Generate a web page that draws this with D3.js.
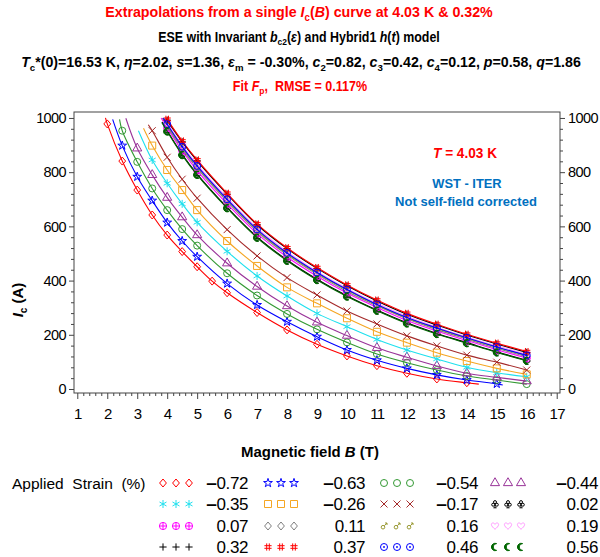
<!DOCTYPE html>
<html>
<head>
<meta charset="utf-8">
<script src="https://cdn.jsdelivr.net/npm/d3@7"></script>
<style>
  body { margin: 0; background: #fff; }
  text { font-family: "Liberation Sans", Arial, sans-serif; }
</style>
</head>
<body>
<div id="chart"></div>
<script>
// Canvas size
var w = 600;
var h = 557;

// Applied strain (%) of every curve, legend order
var strains = [-0.72, -0.63, -0.54, -0.44, -0.35, -0.26, -0.17, 0.02,
               0.07, 0.11, 0.16, 0.19, 0.32, 0.37, 0.46, 0.56];

// Field values (T) of the measured points
var clusterB = [4, 4.5, 5, 6, 7, 8, 9, 10, 11, 12, 13, 14, 15, 16];
var fieldB = [
  [2, 2.5, 3, 3.5, 4, 4.5, 5, 5.5, 6, 7, 8, 9, 10, 11, 12, 13, 14],
  [2.5, 3, 3.5, 4, 4.5, 5, 6, 7, 8, 9, 10, 11, 12, 13, 14, 15],
  [2.5, 3, 3.5, 4, 4.5, 5, 6, 7, 8, 9, 10, 11, 12, 13, 14, 15, 16],
  [3, 3.5, 4, 4.5, 5, 6, 7, 8, 9, 10, 11, 12, 13, 14, 15, 16],
  [3.5, 4, 4.5, 5, 6, 7, 8, 9, 10, 11, 12, 13, 14, 15, 16],
  [3.5, 4, 4.5, 5, 6, 7, 8, 9, 10, 11, 12, 13, 14, 15, 16],
  [3.5, 4, 4.5, 5, 6, 7, 8, 9, 10, 11, 12, 13, 14, 15, 16],
  clusterB, clusterB, clusterB, clusterB, clusterB, clusterB, clusterB, clusterB, clusterB
];

// Critical current Ic (A) at those fields
var currentIc = [
  [978, 841, 734, 642, 568, 507, 451, 398, 355, 282, 218, 165, 122, 86, 58, 37, 23],
  [898, 783, 695, 614, 546, 488, 389, 310, 248, 193, 144, 106, 76, 52, 33, 19],
  [953, 838, 740, 660, 590, 529, 427, 345, 277, 220, 172, 129, 97, 70, 48, 33, 18],
  [888, 790, 706, 634, 568, 464, 378, 306, 246, 197, 152, 117, 85, 58, 43, 29],
  [845, 759, 683, 615, 508, 417, 343, 279, 230, 183, 144, 111, 80, 60, 45],
  [898, 808, 734, 660, 546, 454, 375, 316, 261, 211, 171, 134, 103, 76, 54],
  [953, 855, 774, 704, 588, 491, 411, 347, 288, 240, 196, 159, 125, 99, 70],
  [953, 866, 793, 670, 561, 476, 405, 344, 291, 244, 205, 171, 137, 106],
  [963, 879, 806, 683, 573, 487, 416, 354, 301, 253, 214, 179, 145, 114],
  [970, 886, 815, 692, 581, 495, 423, 360, 307, 259, 219, 184, 150, 119],
  [975, 892, 820, 697, 586, 499, 427, 365, 310, 262, 223, 187, 154, 123],
  [982, 899, 829, 706, 594, 507, 434, 371, 316, 268, 228, 192, 159, 128],
  [992, 912, 842, 719, 606, 518, 445, 381, 325, 276, 236, 199, 166, 135],
  [995, 915, 845, 722, 609, 521, 448, 384, 328, 279, 239, 202, 169, 138],
  [977, 894, 823, 700, 589, 502, 430, 367, 312, 264, 225, 189, 155, 124],
  [950, 863, 790, 667, 558, 473, 402, 341, 289, 242, 203, 169, 135, 104]
];

// Where each fitted line begins and ends beyond the points [B, Ic]
var lineStart = [[1.94, 1000], [2.18, 995], [2.41, 995], [2.62, 999], [3.04, 953], [3.21, 962],
                 [3.37, 975], [3.83, 985], [3.8, 1000], [3.84, 1000], [3.86, 1000], [3.9, 1000],
                 [3.96, 1000], [3.97, 1000], [3.87, 1000], [3.82, 983]];
var lineEnd = [[14.4, 18], [15.2, 15], null, null, null, null, null, null,
               null, null, null, null, null, null, null, null];

// Axis ticks
var xTicks = d3.range(1, 18);
var yTicks = [0, 200, 400, 600, 800, 1000];

// Styles
var colors = ["#ff0000", "#0000ff", "#339933", "#993399", "#1ee0ee", "#f5a623", "#a52a2a", "#000000",
              "#ff00ff", "#808080", "#999933", "#ff99ff", "#000000", "#ff0000", "#0000ff", "#006600"];
var shapes = ["diamond", "star", "circle", "triangle", "asterisk", "square", "x", "club",
              "circlePlus", "diamond", "paw", "heart", "plus", "hash", "circleDot", "moon"];

var svg = d3.select("#chart")
  .append("svg")
  .attr("width", w)
  .attr("height", h);

var plotL = 74, plotR = 560, plotT = 112, plotB = 393;

var xScale = d3.scaleLinear().domain([0.89, 17.11]).range([plotL, plotR]);
var yScale = d3.scaleLinear().domain([-14.8, 1022]).range([plotB, plotT]);

// circle outline as path
function ring(cx, cy, r) {
  return "M" + (cx + r) + "," + cy + "A" + r + "," + r + " 0 1 1 " + (cx - r) + "," + cy +
         "A" + r + "," + r + " 0 1 1 " + (cx + r) + "," + cy;
}

var symbolPaths = {
  diamond: "M0,-4L3.4,0L0,4L-3.4,0Z",
  star: d3.symbol(d3.symbolStar, 24)(),
  circle: ring(0, 0, 3.5),
  triangle: d3.symbol(d3.symbolTriangle, 36)(),
  asterisk: "M0,-4V4M-3.5,-2L3.5,2M-3.5,2L3.5,-2",
  square: "M-3.5,-3.5H3.5V3.5H-3.5Z",
  x: "M-3.5,-3.5L3.5,3.5M-3.5,3.5L3.5,-3.5",
  club: ring(0, -1.9, 1.5) + ring(-1.8, 0.7, 1.5) + ring(1.8, 0.7, 1.5) + "M0,0.6V3.8M-1.6,3.8H1.6",
  circlePlus: ring(0, 0, 3.6) + "M-3.6,0H3.6M0,-3.6V3.6",
  paw: ring(-1, 1.2, 1.8) + "M0.3,-0.2L3,-3M1,-3H3V-1",
  heart: "M0,3.3C-1.6,1.9 -3.6,0.2 -3.6,-1.5C-3.6,-3.3 -1.2,-3.7 0,-1.7C1.2,-3.7 3.6,-3.3 3.6,-1.5C3.6,0.2 1.6,1.9 0,3.3Z",
  plus: "M-3.6,0H3.6M0,-3.6V3.6",
  hash: "M-1.3,-3.6V3.6M1.3,-3.6V3.6M-3.6,-1.3H3.6M-3.6,1.3H3.6",
  circleDot: ring(0, 0, 3.5) + ring(0, 0, 0.6),
  moon: "M1.6,-3.4A3.7,3.7 0 1 0 1.6,3.4A2.7,2.7 0 1 1 1.6,-3.4Z"
};

function drawSymbol(g, shape, color, x, y) {
  var filled = shape === "moon";
  g.append("path")
    .attr("d", symbolPaths[shape])
    .attr("transform", "translate(" + x + "," + y + ")")
    .attr("fill", filled ? color : "none")
    .attr("stroke", color)
    .attr("stroke-width", 1);
}

// Clip so lines stay in the frame
svg.append("clipPath").attr("id", "plotClip")
  .append("rect")
  .attr("x", plotL).attr("y", plotT)
  .attr("width", plotR - plotL).attr("height", plotB - plotT);

// Curves and points
var line = d3.line()
  .x(d => xScale(d[0]))
  .y(d => yScale(d[1]))
  .curve(d3.curveCatmullRom.alpha(0.5));

var plot = svg.append("g");
strains.forEach(function(s, i) {
  var pts = fieldB[i].map((b, j) => [b, currentIc[i][j]]);
  var path = [lineStart[i]].concat(pts);
  if (lineEnd[i]) path.push(lineEnd[i]);
  plot.append("path")
    .attr("clip-path", "url(#plotClip)")
    .attr("d", line(path))
    .attr("fill", "none")
    .attr("stroke", colors[i])
    .attr("stroke-width", 1.1);
  var mg = plot.append("g");
  pts.forEach(function(p) {
    drawSymbol(mg, shapes[i], colors[i], xScale(p[0]), yScale(p[1]));
  });
});

// Frame
svg.append("rect")
  .attr("x", plotL).attr("y", plotT)
  .attr("width", plotR - plotL).attr("height", plotB - plotT)
  .attr("fill", "none")
  .attr("stroke", "#444")
  .attr("stroke-width", 1);

// Axes
function styleAxis(g, size) {
  g.select(".domain").remove();
  g.selectAll(".tick line").attr("stroke", "#444");
  g.selectAll("text")
    .attr("fill", "#000")
    .style("font-size", (size || 14) + "px")
    .style("letter-spacing", "-0.6px");
}

var xMinor = d3.range(1, 17.01, 0.2).filter(v => Math.abs(v - Math.round(v)) > 0.01);
var yMinor = d3.range(0, 1001, 40).filter(v => v % 200 !== 0);

svg.append("g")
  .attr("transform", "translate(0," + plotB + ")")
  .call(d3.axisBottom(xScale).tickValues(xMinor).tickSize(3).tickFormat(""))
  .call(styleAxis);
svg.append("g")
  .attr("transform", "translate(0," + plotB + ")")
  .call(d3.axisBottom(xScale).tickValues(xTicks).tickSize(6).tickPadding(9).tickFormat(d3.format("d")))
  .call(styleAxis, 15);

svg.append("g")
  .attr("transform", "translate(" + plotL + ",0)")
  .call(d3.axisLeft(yScale).tickValues(yMinor).tickSize(3).tickFormat(""))
  .call(styleAxis);
svg.append("g")
  .attr("transform", "translate(" + plotL + ",0)")
  .call(d3.axisLeft(yScale).tickValues(yTicks).tickSize(5).tickPadding(3).tickFormat(d3.format("d")))
  .call(styleAxis, 14.5);

svg.append("g")
  .attr("transform", "translate(" + plotR + ",0)")
  .call(d3.axisRight(yScale).tickValues(yMinor).tickSize(3).tickFormat(""))
  .call(styleAxis);
svg.append("g")
  .attr("transform", "translate(" + plotR + ",0)")
  .call(d3.axisRight(yScale).tickValues(yTicks).tickSize(5).tickPadding(3).tickFormat(d3.format("d")))
  .call(styleAxis, 14.5);

// Rich text helper: parts are [string, flags] with flags i (italic), s (subscript)
function rich(x, y, parts, size, color, weight) {
  var t = svg.append("text")
    .attr("x", x).attr("y", y)
    .attr("text-anchor", "middle")
    .attr("fill", color)
    .style("font-size", size + "px")
    .style("font-weight", weight || "bold")
    .style("white-space", "pre");
  var shifted = false;
  parts.forEach(function(p) {
    var f = p[1] || "";
    var ts = t.append("tspan").text(p[0]);
    if (f.indexOf("i") >= 0) ts.style("font-style", "italic");
    if (f.indexOf("s") >= 0) {
      ts.style("font-size", (size * 0.68) + "px");
      if (!shifted) { ts.attr("dy", size * 0.25); shifted = true; }
    } else if (shifted) {
      ts.attr("dy", -size * 0.25); shifted = false;
    }
  });
  return t;
}

// Squeeze a centred text to a given width
function fitWidth(t, cx, width) {
  var bb = t.node().getBBox();
  var k = width / bb.width;
  t.attr("transform", "translate(" + cx + ",0) scale(" + k + ",1) translate(" + (-cx) + ",0)");
}

var t1 = rich(299, 17, [["Extrapolations from a single "], ["I", "i"], ["c", "s"], ["("], ["B", "i"],
  [") curve at 4.03 K & 0.32%"]], 15.5, "#ff0000");
fitWidth(t1, 299, 388);

var t2 = rich(299, 42, [["ESE with Invariant "], ["b", "i"], ["c2", "s"], ["("], ["ε", "i"],
  [") and Hybrid1 "], ["h", "i"], ["("], ["t", "i"], [") model"]], 14, "#000");
fitWidth(t2, 299, 282);

var t3 = rich(301, 67, [["T", "i"], ["c", "s"], ["*(0)=16.53 K, "], ["η", "i"], ["=2.02, "], ["s", "i"],
  ["=1.36, "], ["ε", "i"], ["m", "s"], [" = -0.30%, "], ["c", "i"], ["2", "s"], ["=0.82, "],
  ["c", "i"], ["3", "s"], ["=0.42, "], ["c", "i"], ["4", "s"], ["=0.12, "], ["p", "i"],
  ["=0.58, "], ["q", "i"], ["=1.86"]], 14.5, "#000");
fitWidth(t3, 301, 560);

var t4 = rich(300, 91, [["Fit "], ["F", "i"], ["p", "s"], [",  RMSE = 0.117%"]], 14, "#ff0000");
fitWidth(t4, 300, 135);

// Annotations inside the plot
var a1 = rich(465, 158, [["T", "i"], [" = 4.03 K"]], 14, "#ff0000");
fitWidth(a1, 465, 64);
var a2 = rich(467, 188, [["WST - ITER"]], 13, "#0070c0");
fitWidth(a2, 467, 70);
var a3 = rich(466, 206, [["Not self-field corrected"]], 13, "#0070c0");
fitWidth(a3, 466, 142);

// Axis titles
var xl = rich(310, 457, [["Magnetic field "], ["B", "i"], [" (T)"]], 14, "#000");
fitWidth(xl, 310, 138);

var yl = svg.append("g").attr("transform", "translate(23,300) rotate(-90)");
var ylt = yl.append("text")
  .attr("text-anchor", "middle")
  .style("font-size", "15px")
  .style("font-weight", "bold");
ylt.append("tspan").text("I").style("font-style", "italic");
ylt.append("tspan").text("c").style("font-size", "10px").attr("dy", 4);
ylt.append("tspan").text(" (A)").attr("dy", -4);

// Legend
svg.append("text")
  .attr("x", 12).attr("y", 488.5)
  .style("font-size", "15.5px")
  .style("white-space", "pre")
  .text("Applied  Strain  (%)");

var legendRows = [483, 504, 526, 547];
var legendMarkX = [163, 268, 384, 495];
var legendValX = [248, 365, 478, 598];

strains.forEach(function(s, i) {
  var row = Math.floor(i / 4), col = i % 4;
  var y = legendRows[row];
  var lg = svg.append("g");
  for (var k = 0; k < 3; k++) {
    drawSymbol(lg, shapes[i], colors[i], legendMarkX[col] + k * 13, y);
  }
  var t = lg.append("text")
    .attr("x", legendValX[col]).attr("y", y + 6)
    .attr("text-anchor", "end")
    .style("font-size", "17px")
    .style("letter-spacing", "-0.4px");
  if (s < 0) t.append("tspan").text("\u2013").style("font-weight", "bold").style("font-size", "19px");
  t.append("tspan").text(Math.abs(s).toFixed(2));
});
</script>
</body>
</html>
